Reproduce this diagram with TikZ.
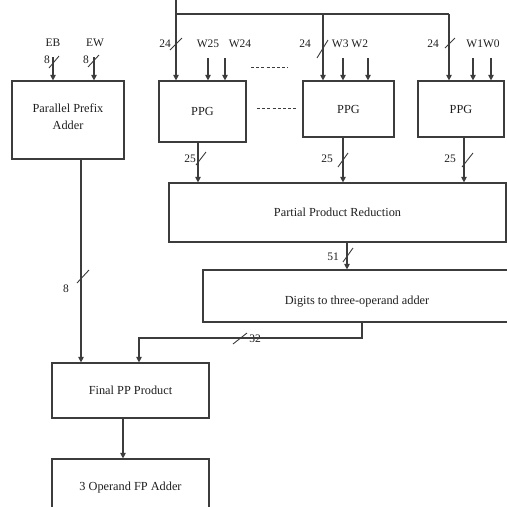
\documentclass[tikz,border=0pt]{standalone}
\usepackage{fontspec}
\setmainfont{Liberation Serif}
\usetikzlibrary{arrows.meta}
\definecolor{wire}{HTML}{3c3c3c}
\definecolor{ink}{HTML}{1e1e1e}
\tikzset{
    BLOCK/.style={draw=wire, line width=1.2pt, shape=rectangle, inner sep=0pt,
        font={\fontsize{12.3}{17}\selectfont}, text=ink, align=center},
    EDGE/.style={draw=wire, line width=1.2pt},
    ARROW/.style={EDGE, -{Triangle[length=5.5pt, width=5.5pt]}},
    SLASH/.style={draw=wire, line width=0.9pt},
    TAG/.style={inner sep=0pt, font={\fontsize{11.5}{13}\selectfont}, text=ink},
    DOTS/.style={draw=wire, line width=1pt, dash pattern=on 3pt off 2.2pt}
}

\begin{document}
\begin{tikzpicture}[x=1pt, y=-1pt]
    \clip (0,0) rectangle (507,507);
    \node [BLOCK, minimum width=112pt, minimum height=78pt,
        label={[BLOCK, draw=none, yshift=3.5pt]center:Parallel Prefix\\Adder}] (ppa) at (68,120) {};
    \node [BLOCK, minimum width=87pt, minimum height=61pt] (ppg1) at (202.5,111.5) {PPG};
    \node [BLOCK, minimum width=91pt, minimum height=56pt] (ppg2) at (348.5,109) {PPG};
    \node [BLOCK, minimum width=86pt, minimum height=56pt] (ppg3) at (461,109) {PPG};
    \node [BLOCK, minimum width=337pt, minimum height=59pt] (ppr) at (337.5,212.5) {Partial Product Reduction};
    \node [BLOCK, minimum width=308pt, minimum height=52pt,
        label={[BLOCK, draw=none, yshift=-6pt]center:Digits to three-operand adder}] (dig) at (357,296) {};
    \node [BLOCK, minimum width=157pt, minimum height=55pt] (fpp) at (130.5,390.5) {Final PP Product};
    \node [BLOCK, minimum width=157pt, minimum height=58pt] (fpa) at (130.5,488) {3 Operand FP Adder};

    \node [TAG] (eb_t) at (53,43) {EB};
    \node [TAG] (ew_t) at (95,43) {EW};
    \node [TAG] (eb_n) at (47,60) {8};
    \node [TAG] (ew_n) at (86,60) {8};
    \node [TAG] (bus1_n) at (165,44) {24};
    \node [TAG] (bus2_n) at (305,44) {24};
    \node [TAG] (bus3_n) at (433,44) {24};
    \node [TAG] (w25_t) at (208,44) {W25};
    \node [TAG] (w24_t) at (240,44) {W24};
    \node [TAG] (w32_t) at (350,44) {W3 W2};
    \node [TAG] (w10_t) at (483,44) {W1W0};
    \node [TAG] (out1_n) at (190,159) {25};
    \node [TAG] (out2_n) at (327,159) {25};
    \node [TAG] (out3_n) at (450,159) {25};
    \node [TAG] (red_n) at (333,257) {51};
    \node [TAG] (dig_n) at (255,339) {32};
    \node [TAG] (ppa_n) at (66,289) {8};

    \coordinate (bus_in) at (176,0);
    \coordinate (bus_mid) at (323,14);
    \coordinate (bus_end) at (449,14);
    \coordinate (eb) at (53,57);
    \coordinate (ew) at (94,57);
    \coordinate (w25) at (208,58);
    \coordinate (w24) at (225,58);
    \coordinate (w3) at (343,58);
    \coordinate (w2) at (368,58);
    \coordinate (w1) at (473,58);
    \coordinate (w0) at (491,58);
    \coordinate (out1) at (198,142);
    \coordinate (out2) at (343,137);
    \coordinate (out3) at (464,137);
    \coordinate (red_out) at (347,242);
    \coordinate (dig_out) at (362,322);
    \coordinate (dig_bend) at (139,338);
    \coordinate (ppa_out) at (81,159);
    \coordinate (fpp_out) at (123,418);

    \draw [ARROW] (bus_in) -- (bus_in |- ppg1.north);
    \draw [EDGE] (bus_in |- bus_end) -- (bus_end);
    \draw [ARROW] (bus_mid) -- (bus_mid |- ppg2.north);
    \draw [ARROW] (bus_end) -- (bus_end |- ppg3.north);
    \draw [ARROW] (eb) -- (eb |- ppa.north);
    \draw [ARROW] (ew) -- (ew |- ppa.north);
    \draw [ARROW] (w25) -- (w25 |- ppg1.north);
    \draw [ARROW] (w24) -- (w24 |- ppg1.north);
    \draw [ARROW] (w3) -- (w3 |- ppg2.north);
    \draw [ARROW] (w2) -- (w2 |- ppg2.north);
    \draw [ARROW] (w1) -- (w1 |- ppg3.north);
    \draw [ARROW] (w0) -- (w0 |- ppg3.north);
    \draw [ARROW] (out1) -- (out1 |- ppr.north);
    \draw [ARROW] (out2) -- (out2 |- ppr.north);
    \draw [ARROW] (out3) -- (out3 |- ppr.north);
    \draw [ARROW] (red_out) -- (red_out |- dig.north);
    \draw [ARROW] (dig_out) |- (dig_bend) -- (dig_bend |- fpp.north);
    \draw [ARROW] (ppa_out) -- (ppa_out |- fpp.north);
    \draw [ARROW] (fpp_out) -- (fpp_out |- fpa.north);

    \draw [SLASH] (49,68) -- ++(10,-12);
    \draw [SLASH] (88,67) -- ++(11,-12);
    \draw [SLASH] (170,50) -- ++(12,-12);
    \draw [SLASH] (317,58) -- ++(11,-18);
    \draw [SLASH] (445,48) -- ++(10,-10);
    \draw [SLASH] (196,165) -- ++(10,-13);
    \draw [SLASH] (338,167) -- ++(10,-14);
    \draw [SLASH] (462,167) -- ++(11,-14);
    \draw [SLASH] (343,262) -- ++(10,-14);
    \draw [SLASH] (233,344) -- ++(14,-11);
    \draw [SLASH] (77,283) -- ++(12,-13);

    \draw [DOTS] (251,67) -- (288,67);
    \draw [DOTS] (257,108) -- (298,108);
\end{tikzpicture}
\end{document}
